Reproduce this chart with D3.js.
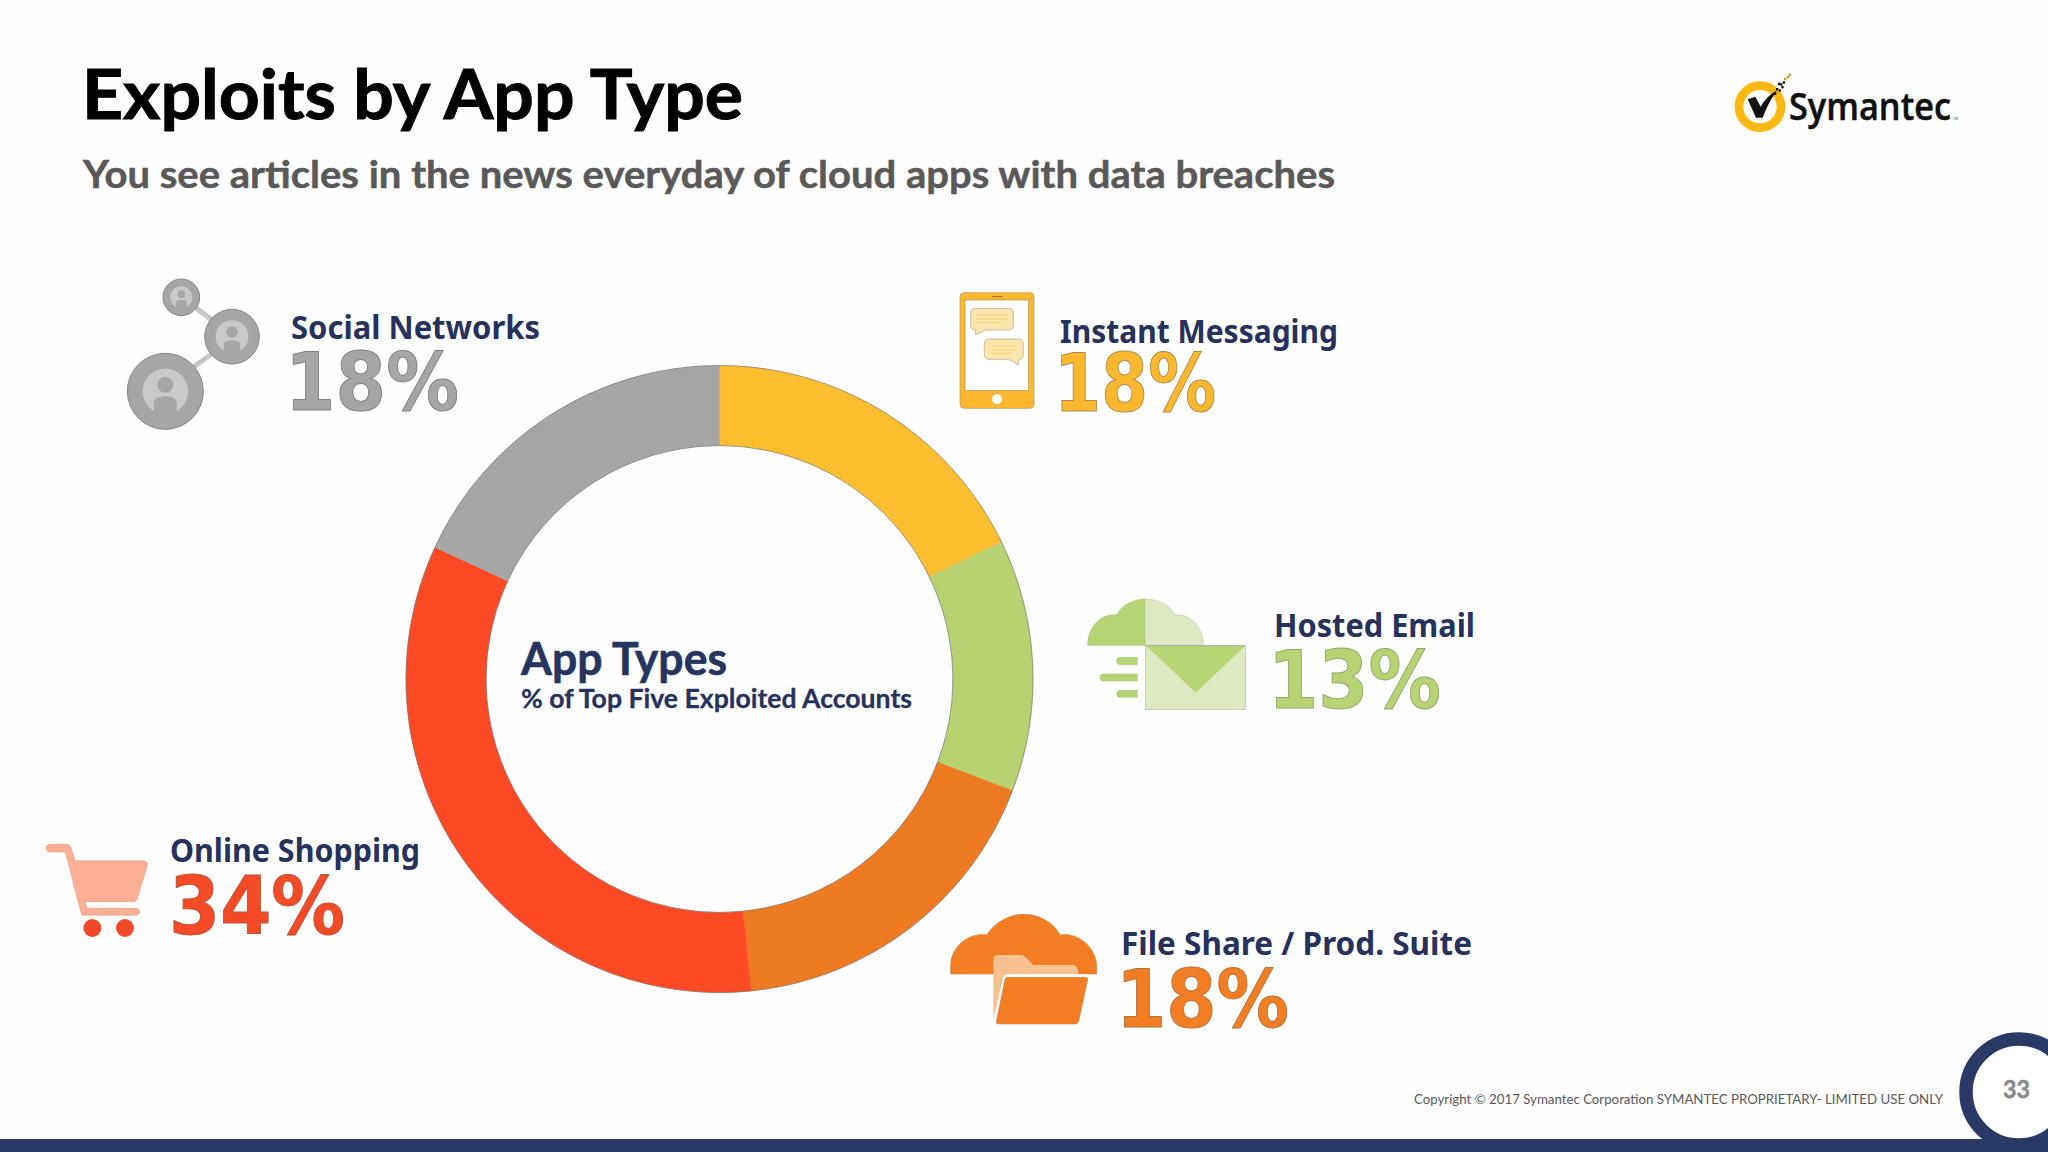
<!DOCTYPE html>
<html>
<head>
<meta charset="utf-8">
<script src="https://cdn.jsdelivr.net/npm/d3@7"></script>
<style>
  html, body { margin: 0; padding: 0; background: #fff; }
  svg { display: block; }
</style>
</head>
<body>
<svg id="chart" width="2048" height="1152"></svg>
<script>
"use strict";

var categories = ["Instant Messaging", "Hosted Email", "File Share / Prod. Suite", "Online Shopping", "Social Networks"];
var shares = [18, 13, 18, 34, 18];
var sliceSizes = [17.8, 13.0, 17.6, 33.5, 18.1];

var titleText = "Exploits by App Type";
var subtitleText = "You see articles in the news everyday of cloud apps with data breaches";
var centerTitle = "App Types";
var centerSub = "% of Top Five Exploited Accounts";
var copyrightText = "Copyright © 2017 Symantec Corporation SYMANTEC PROPRIETARY- LIMITED USE ONLY";
var pageNumber = "33";

var sliceColors = ["#fdbe2f", "#b8d271", "#ee7a22", "#fd4a25", "#a6a6a6"];
var numberColors = ["#fbb82f", "#b7d373", "#f27d22", "#f44a25", "#a6a6a6"];
var numberEdges = ["#a98c4a", "#93a868", "#b5743a", "#b9533a", "#808080"];
var navy = "#27325c", barNavy = "#2a3a66";

// label boxes: x, right edge and baseline of name, then the same for the percent
var labelBoxes = [
  [1060, 1338, 343, 1054, 1216, 411],
  [1274, 1475, 637, 1268, 1441, 708],
  [1121, 1472, 955, 1116, 1289, 1027],
  [170, 420, 862, 169, 345, 934],
  [291, 540, 339, 285, 459, 410]
];

var cx = 719.5, cy = 679, rOuter = 313.5, rInner = 233.5;

var svg = d3.select("#chart");
svg.append("rect").attr("width", 2048).attr("height", 1152).attr("fill", "#fefefe");

function fitText(parent, str, x, right, y, size, family, weight, fill) {
  return parent.append("text")
    .attr("x", x).attr("y", y)
    .attr("textLength", right - x)
    .attr("lengthAdjust", "spacingAndGlyphs")
    .attr("font-family", family)
    .attr("font-size", size)
    .attr("font-weight", weight)
    .attr("fill", fill)
    .text(str);
}

// header
fitText(svg, titleText, 82, 743, 119, 68, "Lato", 700, "#000")
  .attr("stroke", "#000").attr("stroke-width", 1);
fitText(svg, subtitleText, 83, 1335, 188, 38, "Lato", 700, "#595959")
  .attr("stroke", "#595959").attr("stroke-width", 0.5);

// donut
var pie = d3.pie().sort(null).value(function(d) { return d; });
var arc = d3.arc().innerRadius(rInner).outerRadius(rOuter);
var ring = svg.append("g").attr("transform", "translate(" + cx + "," + cy + ")");
ring.selectAll("path.slice")
  .data(pie(sliceSizes))
  .enter().append("path")
    .attr("class", "slice")
    .attr("d", arc)
    .attr("fill", function(d, i) { return sliceColors[i]; })
    .attr("stroke", function(d, i) { return sliceColors[i]; })
    .attr("stroke-width", 0.5);
[rOuter, rInner].forEach(function(r) {
  ring.append("circle").attr("r", r).attr("fill", "none")
    .attr("stroke", "#6f6f6f").attr("stroke-width", 0.8).attr("opacity", 0.8);
});

fitText(svg, centerTitle, 521, 727, 675, 45, "Lato", 700, "#263560")
  .attr("stroke", "#263560").attr("stroke-width", 0.6);
fitText(svg, centerSub, 521, 912, 708, 26, "Lato", 700, navy)
  .attr("stroke", navy).attr("stroke-width", 0.3);

// labels
categories.forEach(function(name, i) {
  var b = labelBoxes[i];
  fitText(svg, name, b[0], b[1], b[2], 32, "Noto Sans", 700, navy);
  fitText(svg, shares[i] + "%", b[3], b[4], b[5], 81, "DejaVu Sans", 700, numberColors[i])
    .attr("stroke", numberEdges[i]).attr("stroke-width", 1);
});

// icons are drawn in the 3x coordinates of the crops they were read from
function iconGroup(x, y) {
  return svg.append("g").attr("transform", "translate(" + x + "," + y + ") scale(" + (1 / 3) + ")");
}

// social
(function() {
  var g = iconGroup(100, 250);
  var grey = "#a6a6a6", edge = "#858585", light = "#c9c9c9";
  g.append("path").attr("d", "M285 172L335 210M282 350L335 312")
    .attr("stroke", light).attr("stroke-width", 15);
  g.append("path").attr("d", "M285 172L335 210M282 350L335 312")
    .attr("stroke", "#8f8f8f").attr("stroke-width", 1).attr("transform", "translate(3,-5)");
  [[244, 142, 55], [396, 260, 82], [196, 424, 114]].forEach(function(c) {
    var x = c[0], y = c[1], r = c[2];
    g.append("circle").attr("cx", x).attr("cy", y).attr("r", r).attr("fill", grey)
      .attr("stroke", edge).attr("stroke-width", 3);
    g.append("circle").attr("cx", x).attr("cy", y).attr("r", r * 0.6).attr("fill", light);
    g.append("circle").attr("cx", x).attr("cy", y - r * 0.17).attr("r", r * 0.21).attr("fill", grey);
    g.append("path")
      .attr("d", "M" + (x - r * 0.3) + " " + (y + r * 0.66) + "V" + (y + r * 0.3)
        + "Q" + (x - r * 0.3) + " " + (y + r * 0.13) + " " + x + " " + (y + r * 0.13)
        + "Q" + (x + r * 0.3) + " " + (y + r * 0.13) + " " + (x + r * 0.3) + " " + (y + r * 0.3)
        + "V" + (y + r * 0.66) + "Z")
      .attr("fill", grey);
  });
})();

// phone
(function() {
  var g = iconGroup(930, 270);
  var yellow = "#fbb82f";
  g.append("rect").attr("x", 90).attr("y", 68).attr("width", 222).attr("height", 347).attr("rx", 12)
    .attr("fill", yellow).attr("stroke", "#b9975a").attr("stroke-width", 2);
  g.append("rect").attr("x", 105).attr("y", 90).attr("width", 191).attr("height", 272)
    .attr("fill", "#fff").attr("stroke", "#a98c4a").attr("stroke-width", 2);
  g.append("circle").attr("cx", 201).attr("cy", 388).attr("r", 15).attr("fill", "#fff");
  g.append("path").attr("d", "M186 80H218").attr("stroke", "#8a6d2c").attr("stroke-width", 3);
  var bubbles = [
    "M136 115H236Q250 115 250 129V166Q250 180 236 180H165L137 195L136 180Q122 180 122 166V129Q122 115 136 115Z",
    "M177 207H266Q280 207 280 221V254Q280 268 266 268L265 285L236 268H177Q163 268 163 254V221Q163 207 177 207Z"
  ];
  bubbles.forEach(function(d) {
    g.append("path").attr("d", d).attr("fill", "#fbe5ae").attr("stroke", "#b9a678").attr("stroke-width", 2);
  });
  g.append("path").attr("d", "M140 135H232M140 147H232M140 158H215M183 228H262M183 240H262M183 250H245")
    .attr("stroke", "#f9cf69").attr("stroke-width", 3);
})();

// cloud + envelope
(function() {
  var g = iconGroup(1060, 580);
  var dark = "#b5d574", pale = "#dfe9c1";
  g.append("path").attr("d", "M83 196C83 135 130 98 170 105C185 75 220 57 255 57V196Z").attr("fill", dark)
    .attr("stroke", "#a3b97b").attr("stroke-width", 1.5);
  g.append("path").attr("d", "M255 57C295 57 330 75 345 105C390 100 430 140 430 196H255Z").attr("fill", pale)
    .attr("stroke", "#b4c19a").attr("stroke-width", 1.5);
  g.append("rect").attr("x", 256).attr("y", 197).attr("width", 301).attr("height", 191)
    .attr("fill", pale).attr("stroke", "#b4bda6").attr("stroke-width", 2);
  g.append("path").attr("d", "M260 198H555L407 338Z").attr("fill", dark);
  g.append("path").attr("d", "M556 197H256").attr("stroke", "#a3a89a").attr("stroke-width", 2);
  g.append("path")
    .attr("d", "M232 232H181Q170 232 170 243Q170 254 181 254H232ZM232 282H131Q120 282 120 292Q120 303 131 303H232ZM232 331H181Q170 331 170 341Q170 352 181 352H232Z")
    .attr("fill", dark).attr("stroke", "#a3b97b").attr("stroke-width", 1.5);
})();

// cloud + folder
(function() {
  var g = iconGroup(940, 900);
  var orange = "#f27d22";
  g.append("path")
    .attr("d", "M32 222V195C32 140 90 95 140 105C165 65 210 43 250 43C295 43 340 65 360 105C410 95 470 140 470 200V222Z")
    .attr("fill", orange).attr("stroke", "#c98a55").attr("stroke-width", 2);
  g.append("path")
    .attr("d", "M160 370V180Q160 165 175 165H240Q252 165 260 175L280 195H398Q415 195 415 222H205Q195 222 192 232Z")
    .attr("fill", "#f7c090");
  g.append("path").attr("d", "M160 372L192 236Q196 226 206 226H445")
    .attr("fill", "none").attr("stroke", "#fff").attr("stroke-width", 7);
  g.append("path")
    .attr("d", "M204 232H436Q444 232 443 240L416 364Q414 372 406 372H176Q167 372 169 364L195 238Q197 232 204 232Z")
    .attr("fill", orange).attr("stroke", "#b97a45").attr("stroke-width", 1.5);
})();

// cart
(function() {
  var g = iconGroup(30, 820);
  var pink = "#fdae94";
  g.append("path")
    .attr("d", "M60 73H110Q120 73 123 84L135 122H340Q356 122 351 140L322 236Q319 245 310 245H166L171 265H315Q328 265 328 275Q328 286 315 286H155L106 96H60Q48 96 48 84Q48 73 60 73Z")
    .attr("fill", pink).attr("stroke", "#c99b8a").attr("stroke-width", 1.5);
  [187, 285].forEach(function(x) {
    g.append("circle").attr("cx", x).attr("cy", 324).attr("r", 27).attr("fill", "#f24a28");
  });
})();

// logo
(function() {
  var g = iconGroup(1700, 50);
  g.append("circle").attr("cx", 180).attr("cy", 170).attr("r", 63).attr("fill", "#fff")
    .attr("stroke", "#fdb713").attr("stroke-width", 26);
  g.append("path").attr("d", "M143 148L166 140L182 170Q198 140 232 120Q206 155 188 203H168Z").attr("fill", "#111");
  [[222, 128], [228, 114], [236, 118], [240, 100], [248, 94], [252, 84], [260, 78], [266, 71], [234, 98], [244, 108]].forEach(function(p) {
    g.append("rect").attr("x", p[0]).attr("y", p[1]).attr("width", 7).attr("height", 7).attr("fill", p[0] > 250 ? "#c09a20" : "#111");
  });
  fitText(svg, "Symantec", 1789, 1951, 120, 38, "Open Sans", 600, "#111")
    .attr("stroke", "#111").attr("stroke-width", 0.5);
  fitText(svg, "TM", 1953, 1958, 120, 4, "Open Sans", 400, "#444");
})();

// footer
svg.append("rect").attr("x", 0).attr("y", 1139).attr("width", 2048).attr("height", 13).attr("fill", barNavy);
svg.append("circle").attr("cx", 2019).attr("cy", 1092).attr("r", 53).attr("fill", "#fff")
  .attr("stroke", barNavy).attr("stroke-width", 13.5);
svg.append("rect").attr("x", 1960).attr("y", 1139).attr("width", 88).attr("height", 13).attr("fill", barNavy);
fitText(svg, copyrightText, 1414, 1943, 1104, 13.5, "Lato", 400, "#595959");
fitText(svg, pageNumber, 2003, 2030, 1098, 25, "Lato", 700, "#8a8a8a")
  .attr("stroke", "#8a8a8a").attr("stroke-width", 0.5);
</script>
</body>
</html>
